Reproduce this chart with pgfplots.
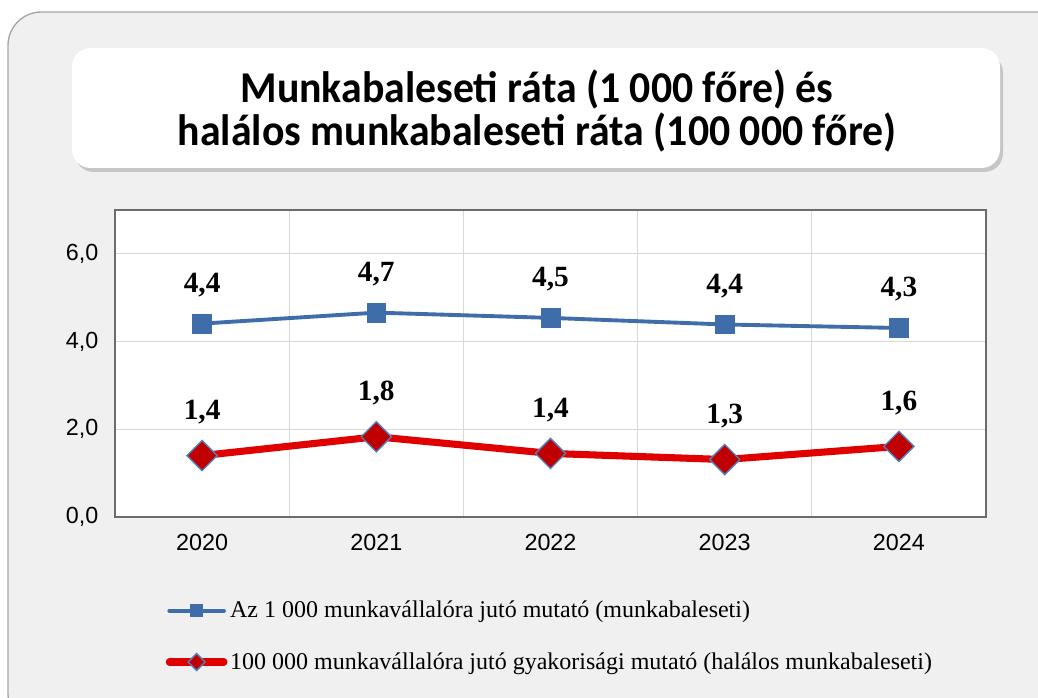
\documentclass[border=0pt]{standalone}
\usepackage{pgfplots}
\pgfplotsset{compat=1.18}
\usepackage{fontspec}
\setmainfont{Liberation Serif}
\newfontfamily\sansf{Liberation Sans}
\newfontfamily\titlef[FakeStretch=0.95]{Carlito}
\usetikzlibrary{shadows}
\definecolor{bgg}{HTML}{F0F0F0}
\definecolor{blueline}{HTML}{3F6DAA}
\definecolor{redline}{HTML}{E00000}
\definecolor{darkred}{HTML}{C00000}
\definecolor{mblue}{HTML}{4F81BD}
\definecolor{gridc}{HTML}{D9D9D9}
\begin{document}
\begin{tikzpicture}[x=0.75pt,y=0.75pt]
\path[use as bounding box, fill=white] (0,0) rectangle (1038,697);
\draw[fill=bgg, draw=gray!70, line width=1pt, rounded corners=25] (8,-30) rectangle (1080,685);
\fill[gray!45, rounded corners=14] (75,525) rectangle (1003,643);
\fill[white, rounded corners=14] (72,529) rectangle (1000,649);
\node[font=\titlef\bfseries\fontsize{33}{32}\selectfont, align=center] at (537,586)
  {Munkabaleseti ráta (1 000 főre) és\\halálos munkabaleseti ráta (100 000 főre)};
\begin{axis}[
  at={(86.25pt,135pt)}, anchor=south west,
  scale only axis, width=653.25pt, height=230.25pt,
  xmin=-0.5, xmax=4.5, ymin=0, ymax=7,
  xtick={0,1,2,3,4}, xticklabels={2020,2021,2022,2023,2024},
  minor xtick={0.5,1.5,2.5,3.5}, minor x grid style={gridc, line width=0.8pt},
  xminorgrids=true,
  ytick={0,2,4,6}, ymajorgrids=true, major grid style={gridc, line width=0.8pt},
  major tick length=0pt, minor tick length=0pt,
  axis background/.style={fill=white},
  axis line style={draw=gray!85!black, line width=1.5pt},
  tick label style={font=\sansf\fontsize{17.5}{20}\selectfont},
  /pgf/number format/assume math mode=true,
  yticklabel={\pgfmathprintnumber[fixed, fixed zerofill, precision=1, use comma]{\tick}},
  yticklabel style={xshift=-9pt},
  xticklabel style={yshift=-9pt},
  nodes near coords, point meta=explicit symbolic,
  nodes near coords style={font=\bfseries\fontsize{22}{26}\selectfont, text=black, anchor=center},
  legend style={at={(0.058,-0.265)}, anchor=north west, draw=none, fill=none,
    font=\fontsize{18}{21}\selectfont, row sep=20.5pt, inner sep=0pt,
    legend cell align=left},
  legend image code/.code={
    \draw[#1, mark repeat=2, mark phase=2, mark size=4.5pt] plot coordinates {(0cm,0cm) (0.72cm,0cm) (1.44cm,0cm)};
  },
  clip=false,
]
\addplot[blueline, line width=2.9pt, line cap=round, mark=square*, mark size=7pt,
  mark options={fill=blueline, draw=blueline, line width=0.5pt},
  nodes near coords style={yshift=29pt}]
  coordinates {(0,4.41)[4,4] (1,4.66)[4,7] (2,4.54)[4,5] (3,4.39)[4,4] (4,4.31)[4,3]};
\addlegendentry{Az 1 000 munkavállalóra jutó mutató (munkabaleseti)}
\addplot[redline, line width=5.3pt, line cap=round, mark=square*, mark size=8pt,
  mark options={fill=darkred, draw=mblue, line width=1pt, rotate=45},
  nodes near coords style={yshift=32.5pt}]
  coordinates {(0,1.40)[1,4] (1,1.83)[1,8] (2,1.45)[1,4] (3,1.31)[1,3] (4,1.61)[1,6]};
\addlegendentry{100 000 munkavállalóra jutó gyakorisági mutató (halálos munkabaleseti)}
\end{axis}
\end{tikzpicture}
\end{document}
